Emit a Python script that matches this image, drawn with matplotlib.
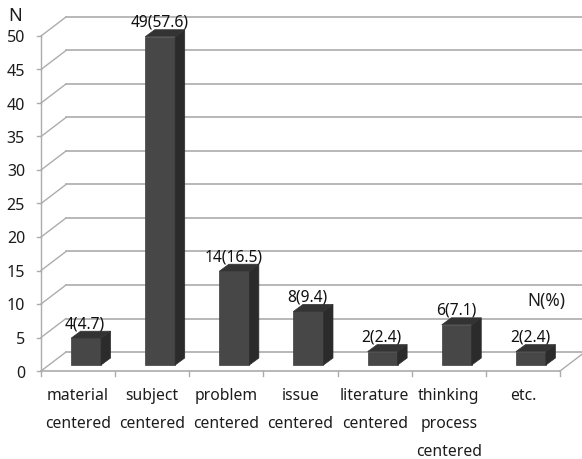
import matplotlib
matplotlib.use('Agg')
import matplotlib.pyplot as plt
from matplotlib.patches import Polygon

plt.rcParams['font.family'] = ['Noto Sans', 'DejaVu Sans']

categorias = ['material\ncentered', 'subject\ncentered', 'problem\ncentered', 'issue\ncentered',
              'literature\ncentered', 'thinking\nprocess\ncentered', 'etc.']
valores = [4, 49, 14, 8, 2, 6, 2]
porcentajes = [4.7, 57.6, 16.5, 9.4, 2.4, 7.1, 2.4]
ticks_y = [0, 5, 10, 15, 20, 25, 30, 35, 40, 45, 50]

ancho_px, alto_px = 582, 459
x0_px, y0_px = 41, 371
px_por_cat = 74.14
px_por_val = 6.7

# profundidad del piso y de las barras, en unidades de los ejes
fondo_x, fondo_y = 25 / px_por_cat, 19 / px_por_val
prof_x, prof_y = 9.5 / px_por_cat, 7 / px_por_val
base_y = 6 / px_por_val
ancho_barra = 30 / px_por_cat
color_rejilla = '#acacac'
color_texto = '#1c1c1c'

fig = plt.figure(figsize=(ancho_px / 100, alto_px / 100), dpi=100)
ax = fig.add_axes([0, 0, 1, 1])
ax.set_xlim(-x0_px / px_por_cat, (ancho_px - x0_px) / px_por_cat)
ax.set_ylim(-(alto_px - y0_px) / px_por_val, y0_px / px_por_val)
ax.axis('off')

n = len(categorias)

# pared izquierda y rejilla del fondo
for t in ticks_y:
    ax.plot([0, fondo_x], [t, t + fondo_y], color=color_rejilla, lw=1.0)
    ax.plot([fondo_x, n + fondo_x], [t + fondo_y, t + fondo_y], color=color_rejilla, lw=1.2)
    ax.plot([-4 / px_por_cat, 0], [t, t], color=color_rejilla, lw=1.0)
    ax.text(-16 / px_por_cat, t - 2.5 / px_por_val, str(t), ha='right', va='center', fontsize=11.5, color=color_texto)
ax.plot([0, 0], [0, ticks_y[-1]], color=color_rejilla, lw=1.0)

# piso
ax.plot([0, n], [0, 0], color=color_rejilla, lw=1.2)
ax.plot([n, n + fondo_x], [0, fondo_y], color=color_rejilla, lw=1.0)
for i in range(n + 1):
    ax.plot([i, i], [0, -5 / px_por_val], color=color_rejilla, lw=1.0)

# barras con cara frontal, lateral y superior
for i, (v, p) in enumerate(zip(valores, porcentajes)):
    izq = i + 0.5 - ancho_barra / 2 + 8 / px_por_cat
    der = izq + ancho_barra
    abajo = base_y
    arriba = v + base_y
    ax.add_patch(Polygon([(izq, abajo), (der, abajo), (der, arriba), (izq, arriba)],
                         facecolor='#474747', edgecolor='#3d3d3d', lw=0.5, zorder=3))
    ax.add_patch(Polygon([(der, abajo), (der + prof_x, abajo + prof_y),
                          (der + prof_x, arriba + prof_y), (der, arriba)],
                         facecolor='#2b2b2b', edgecolor='#2b2b2b', lw=0.5, zorder=3))
    ax.add_patch(Polygon([(izq, arriba), (der, arriba), (der + prof_x, arriba + prof_y),
                          (izq + prof_x, arriba + prof_y)],
                         facecolor='#333333', edgecolor='#333333', lw=0.5, zorder=3))
    ax.annotate(f'{v}({p})', (izq + ancho_barra / 2 - 1 / px_por_cat, arriba), xytext=(0, 10), textcoords='offset points',
                ha='center', va='center', fontsize=11.2, color='#111111', zorder=4)

# etiquetas de categoria, una linea cada vez para controlar el interlineado
for i, etiqueta in enumerate(categorias):
    for j, linea in enumerate(etiqueta.split('\n')):
        ax.text(i + 0.5, -(25.5 + j * 27.5) / px_por_val, linea, ha='center', va='center',
                fontsize=11.3, color=color_texto)

ax.text(-26 / px_por_cat, 53.0, 'N', ha='center', va='center', fontsize=13, color=color_texto)
ax.text(6.82, 10.5, 'N(%)', ha='center', va='center', fontsize=12.5, color=color_texto)

fig.savefig('out.png', dpi=100)
